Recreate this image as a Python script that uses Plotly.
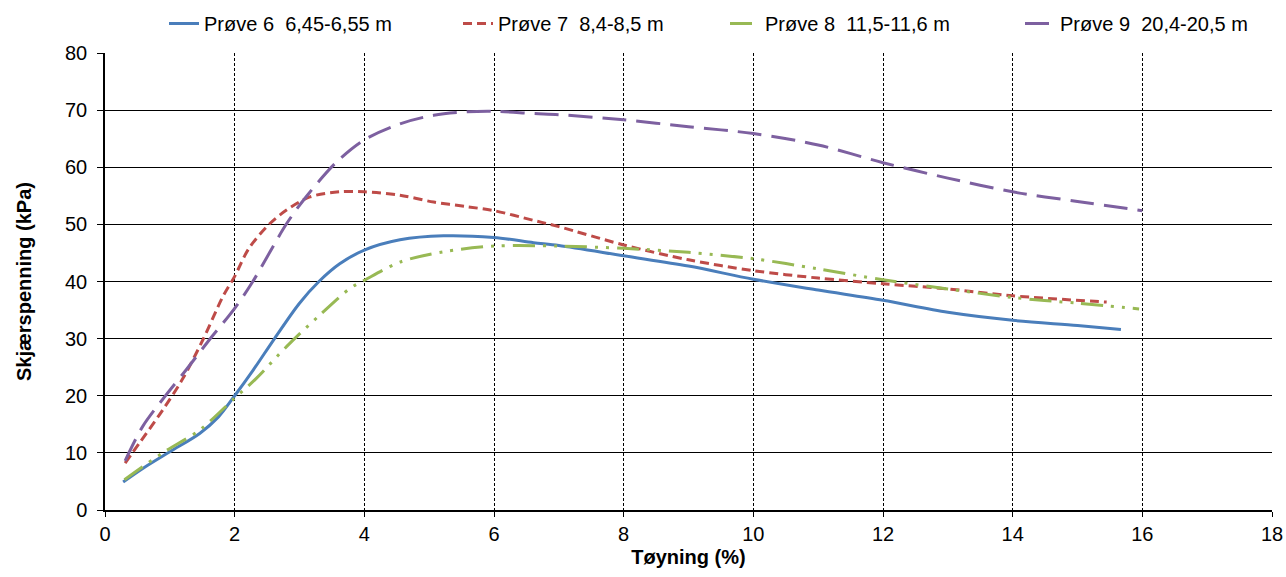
import plotly.graph_objects as go

# Prøve 6
x6 = [0.28, 0.6, 1.0, 1.46, 1.75, 2.0, 2.28, 2.62, 3.0, 3.3, 3.62, 4.0, 4.55, 5.22, 6.0, 6.61, 7.0, 8.0, 9.0, 10.0, 11.0, 12.0, 13.0, 14.0, 15.0, 15.67]
y6 = [4.9, 7.4, 10.2, 13.4, 16.3, 20.0, 24.4, 30.1, 36.2, 40.0, 43.1, 45.5, 47.3, 48.0, 47.7, 46.8, 46.3, 44.5, 42.7, 40.4, 38.5, 36.7, 34.6, 33.2, 32.3, 31.6]
# Prøve 7
x7 = [0.31, 0.53, 0.89, 1.2, 1.51, 1.82, 2.0, 2.22, 2.54, 2.8, 3.16, 3.62, 4.0, 4.55, 5.07, 5.58, 6.0, 6.61, 7.0, 8.0, 9.0, 10.0, 11.0, 12.0, 13.0, 14.0, 15.45]
y7 = [8.2, 11.7, 17.5, 23.0, 29.8, 37.4, 40.9, 45.8, 50.1, 52.5, 54.8, 55.7, 55.7, 55.1, 53.9, 53.1, 52.4, 50.7, 49.6, 46.4, 43.8, 41.9, 40.6, 39.6, 38.7, 37.5, 36.4]
# Prøve 8
x8 = [0.3, 0.89, 1.46, 2.0, 2.33, 2.8, 3.31, 3.78, 4.0, 4.55, 5.22, 6.0, 7.0, 8.0, 9.0, 10.0, 11.0, 12.0, 13.0, 14.0, 15.0, 15.95]
y8 = [5.3, 10.0, 14.0, 19.6, 23.0, 28.6, 34.1, 38.8, 40.2, 43.4, 45.2, 46.2, 46.2, 45.8, 45.1, 44.0, 42.2, 40.3, 38.7, 37.2, 36.2, 35.2]
# Prøve 9
x9 = [0.31, 0.58, 0.94, 1.25, 1.61, 2.0, 2.28, 2.8, 3.1, 3.57, 4.0, 4.55, 5.07, 5.58, 6.0, 6.61, 7.0, 8.0, 9.0, 10.0, 11.0, 12.0, 13.0, 14.0, 15.0, 16.0]
y9 = [8.6, 14.6, 20.1, 24.5, 29.8, 35.3, 40.0, 50.1, 54.8, 60.9, 64.8, 67.6, 69.1, 69.7, 69.8, 69.4, 69.2, 68.3, 67.1, 65.9, 63.9, 60.8, 58.1, 55.7, 54.0, 52.4]

names = ["Prøve 6\u00a0 6,45-6,55 m", "Prøve 7\u00a0 8,4-8,5 m",
         "Prøve 8\u00a0 11,5-11,6 m", "Prøve 9\u00a0 20,4-20,5 m"]
colors = ["#4A7EBB", "#BE4B48", "#98B954", "#7D60A0"]
dashes = ["solid", "9px,5px", "22px,8px,3px,8px,3px,8px", "24px,10px"]
legend_ids = ["legend", "legend2", "legend3", "legend4"]
legend_text_x = [206, 500, 767, 1062]

W, H = 1286, 577
ML, MR, MT, MB = 105, 14, 53, 67
PW, PH = W - ML - MR, H - MT - MB

fig = go.Figure()
for xs, ys, n, c, d, lg in zip([x6, x7, x8, x9], [y6, y7, y8, y9], names, colors, dashes, legend_ids):
    fig.add_trace(go.Scatter(x=xs, y=ys, name=n, mode="lines", legend=lg,
                             line=dict(color=c, width=3, dash=d, shape="spline", smoothing=0.9)))

font = "Liberation Sans, Arial, sans-serif"
legend_kw = {}
for lg, tx in zip(legend_ids, legend_text_x):
    legend_kw[lg] = dict(orientation="h", xref="paper", yref="paper",
                         x=(tx - 42 - ML) / PW, y=(H - MB - 4) / PH,
                         xanchor="left", yanchor="top",
                         font=dict(size=20, family=font), bgcolor="rgba(0,0,0,0)")

fig.update_layout(
    width=W, height=H,
    margin=dict(l=ML, r=MR, t=MT, b=MB, autoexpand=False),
    paper_bgcolor="white", plot_bgcolor="white",
    font=dict(family=font, size=20, color="black"),
    showlegend=True,
    xaxis=dict(range=[0, 18], dtick=2, tick0=0, automargin=False,
               showgrid=True, gridcolor="black", gridwidth=1, griddash="3px,2px",
               showline=True, linecolor="black", linewidth=1.5,
               ticks="outside", ticklen=5, tickcolor="black",
               zeroline=False, tickfont=dict(size=20),
               title=dict(text="<b>Tøyning (%)</b>", font=dict(size=20), standoff=6)),
    yaxis=dict(range=[0, 80], dtick=10, tick0=0, automargin=False,
               showgrid=True, gridcolor="black", gridwidth=1,
               showline=True, linecolor="black", linewidth=1.5,
               ticks="outside", ticklen=6, tickcolor="black",
               zeroline=False, tickfont=dict(size=20), ticklabelstandoff=6,
               title=dict(text="<b>Skjærspenning (kPa)</b>", font=dict(size=20), standoff=28)),
    **legend_kw,
)

fig.write_html("out.html")
